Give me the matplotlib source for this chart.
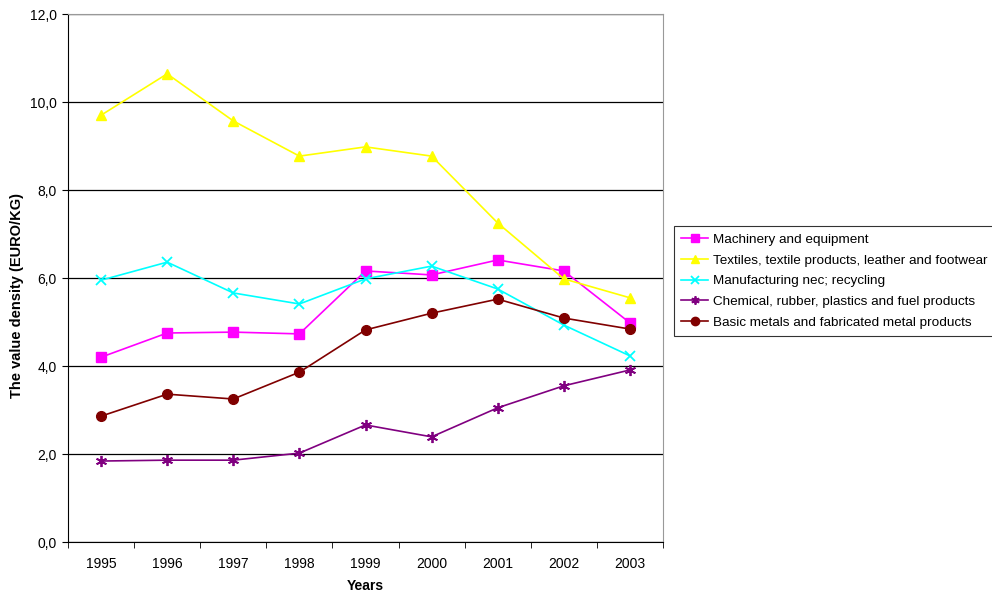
import matplotlib
matplotlib.use("Agg")
import matplotlib.pyplot as plt
from matplotlib.ticker import FuncFormatter, FixedLocator
import numpy as np

plt.rcParams['font.family'] = ['Liberation Sans', 'DejaVu Sans']

years = ['1995', '1996', '1997', '1998', '1999', '2000', '2001', '2002', '2003']
machinery = [4.20, 4.75, 4.77, 4.73, 6.16, 6.07, 6.41, 6.16, 4.98]
textiles = [9.70, 10.64, 9.57, 8.77, 8.98, 8.77, 7.25, 5.98, 5.55]
manufacturing = [5.95, 6.36, 5.66, 5.41, 5.98, 6.27, 5.75, 4.93, 4.23]
chemical = [1.84, 1.86, 1.86, 2.02, 2.66, 2.39, 3.05, 3.55, 3.91]
metals = [2.86, 3.36, 3.25, 3.86, 4.82, 5.20, 5.52, 5.09, 4.84]

labels = ['Machinery and equipment',
          'Textiles, textile products, leather and footwear',
          'Manufacturing nec; recycling',
          'Chemical, rubber, plastics and fuel products',
          'Basic metals and fabricated metal products']

fig = plt.figure(figsize=(9.92, 5.93), dpi=100)
ax = fig.add_axes([68/992, 51/593, (663-68)/992, (542-14)/593])

x = np.arange(len(years))
ax.plot(x, machinery, color='#FF00FF', marker='s', markersize=7, lw=1.2, label=labels[0])
ax.plot(x, textiles, color='#FFFF00', marker='^', markersize=7, lw=1.2, label=labels[1])
ax.plot(x, manufacturing, color='#00FFFF', marker='x', markersize=7, mew=1.3, lw=1.2, label=labels[2])
ax.plot(x, chemical, color='#800080', marker=(6, 2, 0), markersize=8, mew=1.3, lw=1.2, label=labels[3])
ax.plot(x, metals, color='#800000', marker='o', markersize=7, lw=1.2, label=labels[4])

ax.set_xlim(-0.5, len(years) - 0.5)
ax.set_ylim(0, 12)
ax.set_yticks(np.arange(0, 12.1, 2))
ax.yaxis.set_major_formatter(FuncFormatter(lambda v, p: f"{v:.1f}".replace('.', ',')))
ax.set_xticks(x)
ax.set_xticklabels(years)
ax.xaxis.set_minor_locator(FixedLocator(np.arange(-0.5, len(years), 1)))
ax.tick_params(axis='x', which='major', length=0, labelsize=10, pad=11)
ax.tick_params(axis='x', which='minor', length=4, direction='out')
ax.tick_params(axis='y', labelsize=10, length=4, direction='out', pad=4)

ax.grid(axis='y', color='black', lw=0.9)
ax.set_axisbelow(True)
for s in ['top', 'right']:
    ax.spines[s].set_color('#999999')
for s in ['left', 'bottom']:
    ax.spines[s].set_color('black')

ax.set_xlabel('Years', fontsize=10, fontweight='bold')
ax.xaxis.set_label_coords((365-68)/(663-68), (542-579)/(542-14))
ax.set_ylabel('The value density (EURO/KG)', fontsize=10.5, fontweight='bold')
ax.yaxis.set_label_coords((24-68)/(663-68), (542-296)/(542-14))

leg = fig.legend(loc='upper left', bbox_to_anchor=(674/992, 1 - 226/593), fontsize=9.7,
                 frameon=True, fancybox=False, edgecolor='black', borderpad=0.55,
                 handlelength=2.0, labelspacing=0.62, handletextpad=0.35, borderaxespad=0)
leg.get_frame().set_linewidth(0.8)
for h in leg.legend_handles:
    h.set_markersize(6)

fig.savefig('out.png', dpi=100)
